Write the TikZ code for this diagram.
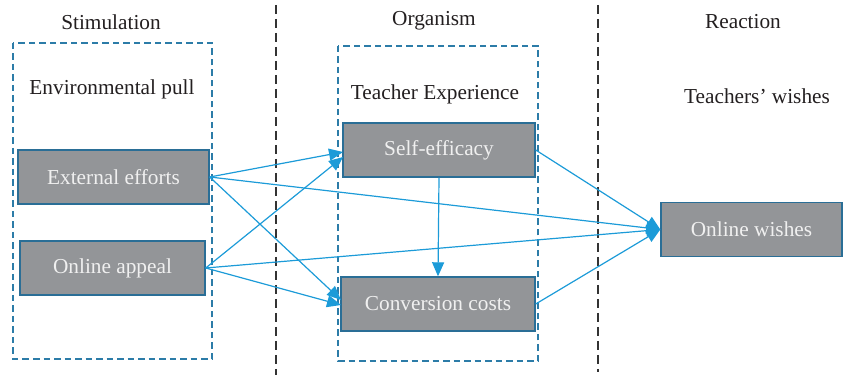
\documentclass[tikz,border=0pt]{standalone}
\usepackage{fontspec}
\setmainfont{Liberation Serif}
\usetikzlibrary{arrows.meta}
\definecolor{boxfill}{HTML}{939598}
\definecolor{boxline}{HTML}{2A6E96}
\definecolor{linkblue}{HTML}{1C9BD8}
\definecolor{groupblue}{HTML}{2C7CA8}
\definecolor{textdark}{HTML}{231F20}
\begin{document}
\begin{tikzpicture}[x=1pt,y=-1pt,
  every node/.style={font=\fontsize{21.3}{25}\selectfont},
  heading/.style={text=textdark, inner sep=0pt},
  varbox/.style={draw=boxline, line width=1.4pt, fill=boxfill, text=white!94!black,
    minimum width=#1, minimum height=54pt, inner sep=0pt},
  group/.style={draw=groupblue, line width=1.3pt, dash pattern=on 6.5pt off 4pt},
  divider/.style={draw=black!80, line width=1.2pt, dash pattern=on 9pt off 5pt},
  link/.style={draw=linkblue, line width=1.2pt, -{Triangle[length=14pt,width=12pt]}}]
  \useasboundingbox (0,0) rectangle (844,379);

  % stage separators
  \coordinate (d1t) at (276,5);  \coordinate (d1b) at (276,375);
  \coordinate (d2t) at (598,5);  \coordinate (d2b) at (598,372);
  \draw[divider] (d1t) -- (d1b);
  \draw[divider] (d2t) -- (d2b);

  % grouping frames
  \coordinate (g1a) at (13,43);  \coordinate (g1b) at (212,359);
  \coordinate (g2a) at (338,46); \coordinate (g2b) at (538,361);
  \draw[group] (g1a) rectangle (g1b);
  \draw[group] (g2a) rectangle (g2b);

  % stage titles and group labels
  \node[heading] (stim) at (111,22) {Stimulation};
  \node[heading] (org)  at (434,21) {Organism};
  \node[heading] (reac) at (743,22) {Reaction};
  \node[heading] (env)  at (112,89) {Environmental pull};
  \node[heading] (tex)  at (435,94) {Teacher Experience};
  \node[heading] (tw)   at (757,96) {Teachers’ wishes};

  % variables
  \node[varbox=191pt] (ee) at (113.5,177) {External efforts};
  \node[varbox=185pt] (oa) at (112.5,268) {Online appeal};
  \node[varbox=192pt] (se) at (439,150) {Self-efficacy};
  \node[varbox=194pt] (cc) at (438,304) {Conversion costs};
  \node[varbox=181pt] (ow) at (751.5,229.5) {Online wishes};

  % paths
  \coordinate (seA) at (343,152);
  \coordinate (seB) at (343,157);
  \coordinate (ccA) at (341,300);
  \coordinate (ccB) at (341,305);
  \draw[link] (ee.east) -- (seA);
  \draw[link] (oa.east) -- (seB);
  \draw[link] (ee.east) -- (ccA);
  \draw[link] (oa.east) -- (ccB);
  \draw[link] (se.south) -- (cc.north);
  \draw[link] (ee.east) -- (ow.west);
  \draw[link] (oa.east) -- (ow.west);
  \draw[link] (se.east) -- (ow.west);
  \draw[link] (cc.east) -- (ow.west);
\end{tikzpicture}
\end{document}
